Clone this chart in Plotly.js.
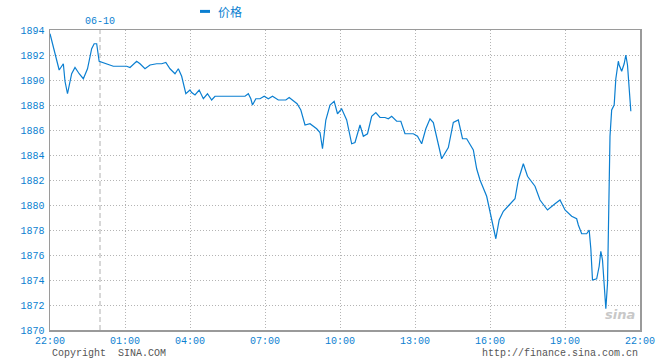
<!DOCTYPE html>
<html>
<head>
<meta charset="utf-8">
<script src="https://cdn.plot.ly/plotly-3.0.1.min.js"></script>
<style>html,body{margin:0;padding:0;background:#fff;}#chart{width:660px;height:360px;}</style>
</head>
<body>
<div id="chart"></div>
<script>
// ---- data ----
const times = ["22:00","22:12","22:22","22:28","22:32","22:36","22:42","22:52","23:00","23:10","23:20","23:30","23:40","23:46","23:52","23:58",
"00:16","00:32","00:48","01:04","01:12","01:28","01:36","01:48","02:00","02:16","02:28","03:02","03:12","03:24","03:32","03:40","03:50",
"04:00","04:04","04:12","04:22","04:32","04:42","04:52","05:00","06:12","06:20","06:26","06:30","06:38","06:48","06:58","07:08","07:18",
"07:32","07:50","07:58","08:08","08:17","08:26","08:36","08:48","09:04","09:12","09:18","09:26","09:36","09:46","09:54","10:04","10:16",
"10:28","10:36","10:48","10:56","11:06","11:16","11:26","11:36","11:48","11:56","12:04","12:16","12:26","12:36","12:48","12:56","13:06",
"13:16","13:26","13:36","13:44","13:52","14:04","14:20","14:32","14:44","14:54","15:04","15:20","15:28","15:36","15:52","16:04","16:14",
"16:22","16:32","16:46","17:00","17:08","17:20","17:30","17:48","18:00","18:18","18:36","18:48","19:00","19:16","19:28","19:32","19:40",
"19:52","19:58","20:02","20:06","20:16","20:22","20:26","20:30","20:34","20:38","20:42","20:44","20:48","20:52","20:58","21:02","21:08",
"21:10","21:16","21:22","21:26","21:30","21:34","21:38"];
const prices = [1893.7,1892.1,1890.8,1891.1,1891.3,1889.9,1888.9,1890.5,1891.0,1890.5,1890.1,1890.9,1892.5,1892.9,1892.9,1891.5,
1891.3,1891.1,1891.1,1891.1,1891.0,1891.5,1891.3,1890.9,1891.2,1891.3,1891.3,1891.4,1890.9,1890.5,1890.9,1890.3,1888.9,
1889.2,1889.0,1888.8,1889.2,1888.5,1888.9,1888.4,1888.7,1888.7,1888.9,1888.5,1888.0,1888.5,1888.5,1888.7,1888.5,1888.7,
1888.4,1888.4,1888.6,1888.3,1888.1,1887.6,1886.4,1886.5,1886.1,1885.8,1884.5,1886.8,1888.0,1888.3,1887.3,1887.7,1886.8,
1884.9,1885.0,1886.4,1885.5,1885.7,1887.1,1887.4,1887.0,1887.0,1886.9,1887.1,1886.7,1886.7,1885.7,1885.7,1885.7,1885.5,
1884.9,1886.1,1886.9,1886.6,1885.5,1883.7,1884.6,1886.6,1886.8,1885.3,1885.3,1884.4,1882.9,1882.0,1880.7,1878.9,1877.3,
1878.8,1879.5,1880.0,1880.5,1882.0,1883.3,1882.3,1881.5,1880.4,1879.6,1880.1,1880.4,1879.6,1879.1,1878.9,1878.4,1877.7,
1877.7,1878.0,1876.5,1874.0,1874.1,1875.1,1876.3,1875.6,1873.2,1871.7,1873.7,1877.7,1885.5,1887.6,1888.0,1890.1,1891.5,
1891.2,1890.7,1891.3,1892.0,1891.2,1889.2,1887.5];
const tickLabels = ["22:00","01:00","04:00","07:00","10:00","13:00","16:00","19:00","22:00"];
const dayMarkTime = "00:00";
const dayMarkLabel = "06-10";
const seriesName = "价格";
const yMin = 1870, yMax = 1894, yStep = 2;

// ---- time scale: minutes since 22:00, with the short trading break removed ----
const BREAK_AT = 270, BREAK_LEN = 24;
function clockOffset(t, isEnd) {
  const [h, m] = t.split(":").map(Number);
  let c = (h * 60 + m - 22 * 60 + 1440) % 1440;
  if (isEnd && c === 0) c = 1440;
  return c;
}
function toAxis(c) { return c <= BREAK_AT ? c : Math.max(BREAK_AT, c - BREAK_LEN); }

const xs = times.map(t => toAxis(clockOffset(t, false)));
const tickVals = tickLabels.map((t, i) => toAxis(clockOffset(t, i === tickLabels.length - 1)));
const dayX = toAxis(clockOffset(dayMarkTime, false));

const blue = "#0b7fd1";
const mono = "Liberation Mono, DejaVu Sans Mono, monospace";

const trace = {
  x: xs, y: prices, type: "scatter", mode: "lines", name: seriesName,
  line: {color: blue, width: 1.2, shape: "linear"}, hoverinfo: "skip", showlegend: false
};

const layout = {
  width: 660, height: 360,
  margin: {l: 50, r: 20, t: 30, b: 30, pad: 0},
  paper_bgcolor: "#ffffff", plot_bgcolor: "#ffffff",
  font: {family: mono, size: 10, color: blue},
  xaxis: {
    range: [tickVals[0], tickVals[tickVals.length - 1]],
    tickvals: tickVals, ticktext: tickLabels,
    showgrid: true, gridcolor: "#b4b4b4", griddash: "1px,2px", gridwidth: 1,
    zeroline: false, showline: true, linecolor: "#9a9a9a", linewidth: 1.5, mirror: true,
    ticks: "", 
    tickfont: {family: mono, size: 10, color: blue}, fixedrange: true
  },
  yaxis: {
    range: [yMin, yMax], dtick: yStep, tick0: yMin,
    showgrid: true, gridcolor: "#b4b4b4", griddash: "1px,2px", gridwidth: 1,
    zeroline: false, showline: true, linecolor: "#9a9a9a", linewidth: 1.5, mirror: true,
    ticks: "outside", ticklen: 2, tickcolor: "rgba(0,0,0,0)",
    tickfont: {family: mono, size: 10, color: blue}, fixedrange: true
  },
  shapes: [
    {type: "line", xref: "x", yref: "paper", x0: dayX, x1: dayX, y0: 0, y1: 1,
     line: {color: "#b0b0b0", width: 1, dash: "5px,3px"}, layer: "below"},
    {type: "line", xref: "paper", yref: "paper", x0: 0.2542, x1: 0.2712, y0: 1.062, y1: 1.062,
     line: {color: blue, width: 3}}
  ],
  annotations: [
    {text: dayMarkLabel, xref: "x", yref: "paper", x: dayX, y: 1.0, yanchor: "bottom", yshift: 1,
     showarrow: false, font: {family: mono, size: 10, color: blue}},
    {text: seriesName, xref: "paper", yref: "paper", x: 0.281, y: 1.062, xanchor: "left", yanchor: "middle",
     showarrow: false, font: {family: "Noto Sans CJK SC", size: 12, color: blue}},
    {text: "Copyright  SINA.COM", xref: "paper", yref: "paper", x: 0, y: -0.079, xanchor: "left", yanchor: "middle",
     showarrow: false, font: {family: mono, size: 10, color: "#555555"}},
    {text: "http://finance.sina.com.cn", xref: "paper", yref: "paper", x: 1, y: -0.079, xanchor: "right", yanchor: "middle",
     showarrow: false, font: {family: mono, size: 10, color: "#555555"}},
    {text: "<b><i>sina</i></b>", xref: "paper", yref: "paper", x: 0.995, y: 0.02, xanchor: "right", yanchor: "bottom",
     showarrow: false, font: {family: "DejaVu Sans", size: 13, color: "#c8c8c8"}}
  ],
  hovermode: false, dragmode: false
};

Plotly.newPlot("chart", [trace], layout, {displayModeBar: false, staticPlot: true});
</script>
</body>
</html>
